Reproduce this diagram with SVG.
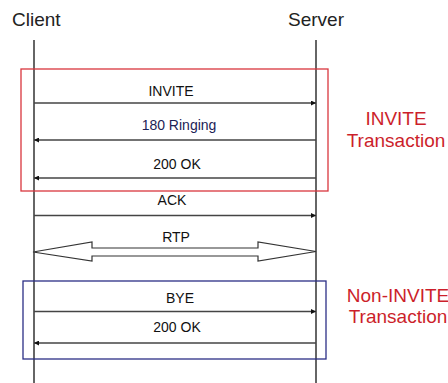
<svg xmlns="http://www.w3.org/2000/svg" width="448" height="383" viewBox="0 0 448 383">
<style>
text{font-family:"Liberation Sans",Arial,sans-serif;}
.hdr{font-size:19px;fill:#222;}
.lbl{font-size:14px;fill:#111;text-anchor:middle;}
.tx{font-size:19px;fill:#cc1f2b;text-anchor:middle;}
.life{stroke:#333;stroke-width:1.5;fill:none;}
.msg{stroke:#444;stroke-width:1.5;fill:none;}
</style>
<defs>
<marker id="ah" viewBox="0 0 10 10" refX="10" refY="5" markerWidth="7" markerHeight="5" markerUnits="userSpaceOnUse" orient="auto-start-reverse">
<path d="M0,0 L10,5 L0,10 z" fill="#111"/>
</marker>
</defs>
<rect width="448" height="383" fill="#fff"/>
<g id="client">
<text class="hdr" x="12" y="26">Client</text>
<line class="life" x1="34" y1="40" x2="34" y2="383"/>
</g>
<g id="server">
<text class="hdr" x="288" y="26">Server</text>
<line class="life" x1="316" y1="40" x2="316" y2="383"/>
</g>
<g id="invite-transaction">
<rect x="21" y="69" width="307" height="122" fill="none" stroke="#d9363e" stroke-width="1.3"/>
<text class="tx" x="396" y="125">INVITE</text>
<text class="tx" x="396" y="147">Transaction</text>
</g>
<g id="non-invite-transaction">
<rect x="23" y="281" width="303" height="78" fill="none" stroke="#2b2e86" stroke-width="1.3"/>
<text class="tx" x="398" y="302">Non-INVITE</text>
<text class="tx" x="398" y="323">Transaction</text>
</g>
<g id="connectors">
<line class="msg" x1="34" y1="103" x2="316" y2="103" marker-end="url(#ah)"/>
<text class="lbl" x="171" y="96">INVITE</text>
<line class="msg" x1="316" y1="140" x2="34" y2="140" marker-end="url(#ah)"/>
<text class="lbl" x="179" y="130" style="fill:#1c2255">180 Ringing</text>
<line class="msg" x1="316" y1="178" x2="34" y2="178" marker-end="url(#ah)"/>
<text class="lbl" x="177" y="169">200 OK</text>
<line class="msg" x1="34" y1="215.5" x2="316" y2="215.5" marker-end="url(#ah)"/>
<text class="lbl" x="172" y="205">ACK</text>
<polygon points="33,252 92,242 92,248 258,248 258,242 316,251.5 258,261 258,256 92,256 92,261" fill="#fff" stroke="#333" stroke-width="1.2" stroke-linejoin="miter"/>
<text class="lbl" x="176" y="242">RTP</text>
<line class="msg" x1="34" y1="311.5" x2="316" y2="311.5" marker-end="url(#ah)"/>
<text class="lbl" x="180" y="303">BYE</text>
<line class="msg" x1="316" y1="343" x2="34" y2="343" marker-end="url(#ah)"/>
<text class="lbl" x="177" y="332">200 OK</text>
</g>
</svg>
